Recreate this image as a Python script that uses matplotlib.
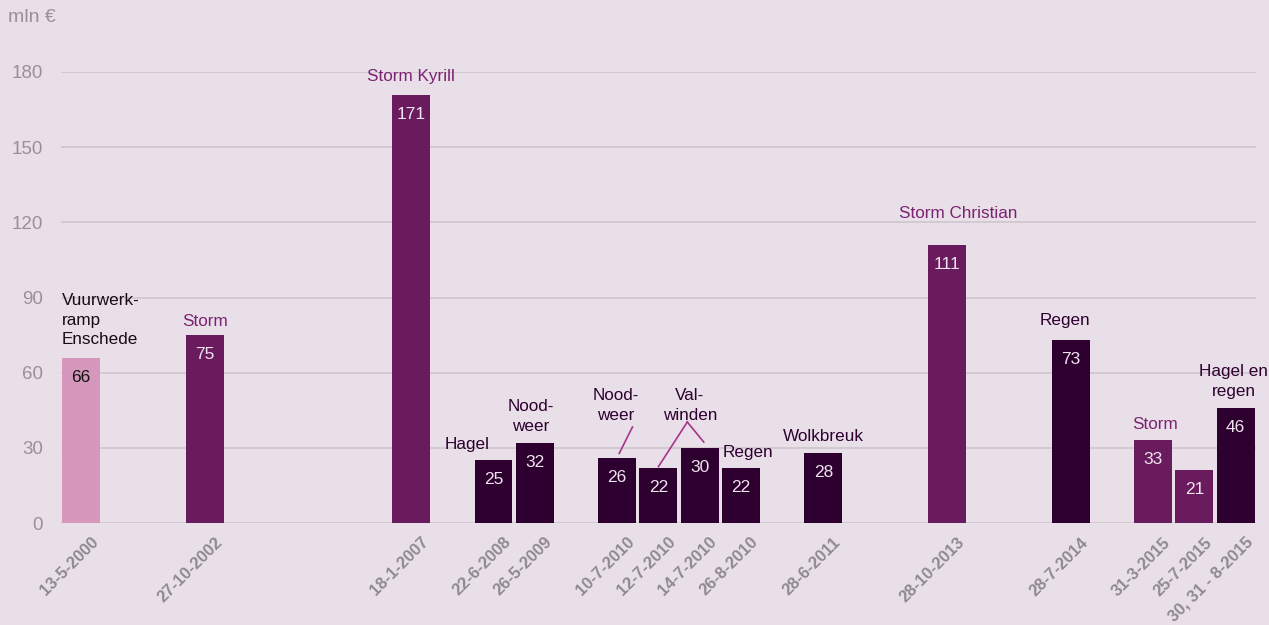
import numpy as np
import matplotlib.pyplot as plt
from matplotlib.transforms import ScaledTranslation

plt.rcParams['font.family'] = ['Liberation Sans', 'DejaVu Sans']

# one entry per slot on the axis; '' marks an empty slot
dates = ['13-5-2000', '', '', '27-10-2002', '', '', '', '', '18-1-2007', '',
         '22-6-2008', '26-5-2009', '', '10-7-2010', '12-7-2010', '14-7-2010',
         '26-8-2010', '', '28-6-2011', '', '', '28-10-2013', '', '',
         '28-7-2014', '', '31-3-2015', '25-7-2015', '30, 31 - 8-2015']
damage = [66, None, None, 75, None, None, None, None, 171, None,
          25, 32, None, 26, 22, 30, 22, None, 28, None, None, 111, None, None,
          73, None, 33, 21, 46]
kind = ['fire', None, None, 'storm', None, None, None, None, 'storm', None,
        'rain', 'rain', None, 'rain', 'rain', 'rain', 'rain', None, 'rain', None,
        None, 'storm', None, None, 'rain', None, 'storm', 'storm', 'rain']

colors = {'fire': '#d597bb', 'storm': '#6a1b5d', 'rain': '#2d0030'}
text_colors = {'fire': '#1a0a18', 'storm': '#7b2272', 'rain': '#2d0030'}
bg = '#e9dfe8'

fig = plt.figure(figsize=(12.69, 6.25), dpi=100, facecolor=bg)
ax = fig.add_axes([0.0477, 0.1632, 0.9423, 0.7216], facecolor=bg)

idx = [i for i, v in enumerate(damage) if v is not None]
vals = [damage[i] for i in idx]
ax.bar(idx, vals, width=0.92, color=[colors[kind[i]] for i in idx], zorder=3)

for i in idx:
    c = '#111111' if kind[i] == 'fire' else '#efe4ee'
    ax.text(i, damage[i] - 7.8, str(damage[i]), ha='center', va='center',
            fontsize=12.5, color=c, zorder=4)

ax.set_xlim(-0.5, len(dates) - 0.5)
ax.set_ylim(0, 180)
ax.set_yticks(np.arange(0, 181, 30))
ax.yaxis.grid(True, color='#cfc5cd', linewidth=1.2, zorder=0)
for s in ax.spines.values():
    s.set_visible(False)
ax.tick_params(axis='y', length=0, labelsize=13.5, labelcolor='#999099', pad=12.5)
ax.tick_params(axis='x', length=0)

ax.set_xticks(idx)
ax.set_xticklabels([dates[i] for i in idx], rotation=45, ha='right',
                   va='center', rotation_mode='anchor', fontsize=12,
                   fontweight='bold', color='#8f8a8f')
off = ScaledTranslation(0.15, -0.12, fig.dpi_scale_trans)
for lab in ax.get_xticklabels():
    lab.set_transform(lab.get_transform() + off)

fig.text(0.006, 0.972, 'mln \u20ac', fontsize=14, color='#999099', va='center')

# event labels
notes = [
    (-0.47, 81, 'Vuurwerk-\nramp\nEnschede', 'fire', 'left'),
    (3, 80.6, 'Storm', 'storm', 'center'),
    (8, 178.4, 'Storm Kyrill', 'storm', 'center'),
    (9.35, 31.5, 'Hagel', 'rain', 'center'),
    (10.9, 42.5, 'Nood-\nweer', 'rain', 'center'),
    (12.97, 47, 'Nood-\nweer', 'rain', 'center'),
    (14.76, 47, 'Val-\nwinden', 'rain', 'center'),
    (16.17, 28.3, 'Regen', 'rain', 'center'),
    (18, 34.7, 'Wolkbreuk', 'rain', 'center'),
    (21.26, 123.7, 'Storm Christian', 'storm', 'center'),
    (23.85, 81, 'Regen', 'rain', 'center'),
    (26.05, 39.5, 'Storm', 'storm', 'center'),
    (27.95, 56.5, 'Hagel en\nregen', 'rain', 'center'),
]
for nx, ny, txt, k, ha in notes:
    ax.text(nx, ny, txt, ha=ha, va='center', fontsize=12.3,
            color=text_colors[k], linespacing=1.4, zorder=5)

# connector lines
line_kw = dict(color='#a8338a', linewidth=1.2, zorder=5)
ax.plot([13.37, 13.05], [38.3, 27.8], **line_kw)
ax.plot([14.7, 14.0], [40.3, 22.5], **line_kw)
ax.plot([14.7, 15.1], [40.3, 32.3], **line_kw)

fig.savefig('out.png', dpi=100, facecolor=bg)
